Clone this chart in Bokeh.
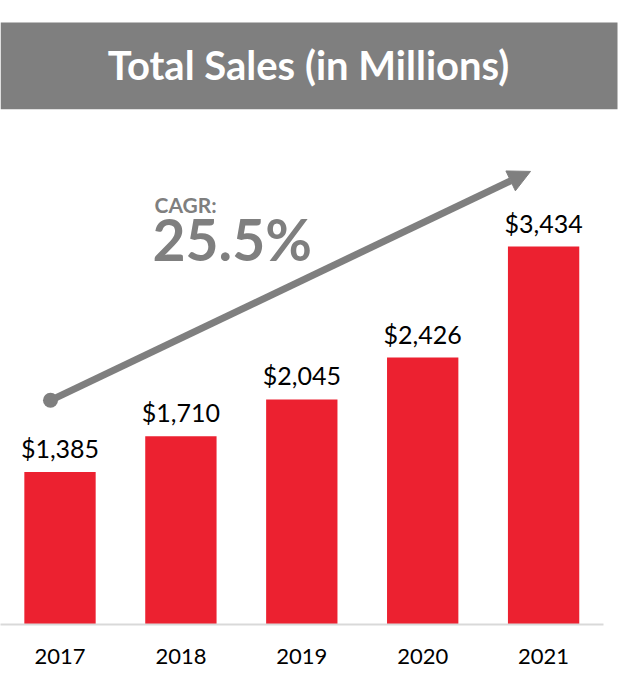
from bokeh.plotting import figure
from bokeh.models import Range1d, BoxAnnotation, Label, Arrow, NormalHead, FixedTicker
from bokeh.core.properties import value
from bokeh.embed import file_html
from bokeh.resources import INLINE

# ---- data ----
years = ["2017", "2018", "2019", "2020", "2021"]
sales = [1385, 1710, 2045, 2426, 3434]
sales_labels = ["$1,385", "$1,710", "$2,045", "$2,426", "$3,434"]
title_text = "Total Sales (in Millions)"
cagr_caption = "CAGR:"
cagr_value = "25.5%"

# ---- layout constants (pixels on the canvas) ----
W, H = 624, 681
BASE = 624.3          # canvas y of the baseline
PX_PER_UNIT = 0.1101  # pixels per million
X0 = 59.5             # canvas x of first bar centre
STEP = 120.9          # pixels between bar centres

def ydat(cy):
    return (BASE - cy) / PX_PER_UNIT

def xdat(cx):
    return (cx - X0) / STEP

RED = "#EC2130"
GRAY = "#7F7F7F"
FONT = "Lato"

xs = list(range(len(years)))

p = figure(width=W, height=H, output_backend="svg", toolbar_location=None,
           x_range=Range1d(xdat(0), xdat(W)), y_range=Range1d(0, ydat(0)),
           min_border_left=0, min_border_right=0, min_border_top=0,
           min_border_bottom=int(H - BASE + 0.5))
p.outline_line_color = None
p.grid.visible = False
p.yaxis.visible = False
p.background_fill_color = "white"
p.border_fill_color = "white"

# x axis with year labels
ax = p.xaxis[0]
ax.ticker = FixedTicker(ticks=xs)
ax.major_label_overrides = {i: y for i, y in zip(xs, years)}
ax.major_tick_line_color = None
ax.minor_tick_line_color = None
ax.axis_line_color = "#D9D9D9"
ax.axis_line_width = 2
ax.bounds = (xdat(0), xdat(603))
ax.major_label_text_font = FONT
ax.major_label_text_font_size = "22px"
ax.major_label_text_color = "#000000"
ax.major_label_standoff = 18

# bars
p.vbar(x=xs, top=sales, width=0.59, bottom=0, fill_color=RED, line_color=None)

# value labels
p.text(x=xs, y=sales, text=sales_labels, text_align="center",
       text_baseline="alphabetic", y_offset=-24,
       text_font=value(FONT), text_font_size="25px", text_color="#000000")

# title banner
p.add_layout(BoxAnnotation(left=xdat(0), right=xdat(617), top=ydat(22), bottom=ydat(108.7),
                           fill_color=GRAY, fill_alpha=1.0, line_color=None, level="underlay"))
p.add_layout(Label(x=xdat(308), y=ydat(64.5), text=title_text, text_align="center",
                   text_baseline="middle", text_font=FONT, text_font_style="bold",
                   text_font_size="40px", text_color="white"))

# CAGR arrow
p.add_layout(Arrow(x_start=xdat(50), y_start=ydat(400), x_end=xdat(530), y_end=ydat(171),
                   line_color=GRAY, line_width=7,
                   end=NormalHead(size=22, fill_color=GRAY, line_color=GRAY, line_width=1)))
p.scatter(x=[xdat(50)], y=[ydat(400)], size=15, marker="circle",
          fill_color=GRAY, line_color=None)

p.add_layout(Label(x=xdat(154), y=ydat(204.5), text=cagr_caption, text_align="left",
                   text_baseline="alphabetic", text_font=FONT, text_font_style="bold",
                   text_font_size="21px", text_color=GRAY))
p.add_layout(Label(x=xdat(152), y=ydat(238.7), text=cagr_value, text_align="left",
                   text_baseline="alphabetic", text_font=FONT, text_font_style="bold",
                   text_font_size="57px", text_color=GRAY))

open("out.html", "w").write(file_html(p, INLINE))
